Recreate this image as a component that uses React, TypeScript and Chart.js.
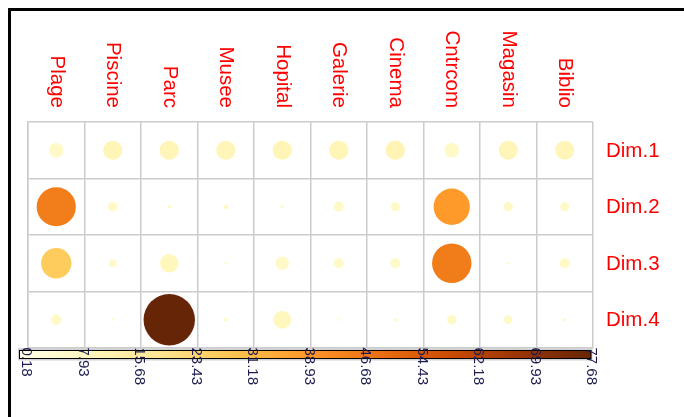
import React, { useEffect, useRef } from "react";
import { Chart, registerables } from "chart.js";

Chart.register(...registerables);

const categories = ["Plage", "Piscine", "Parc", "Musee", "Hopital", "Galerie", "Cinema", "Cntrcom", "Magasin", "Biblio"];
const dimensions = ["Dim.1", "Dim.2", "Dim.3", "Dim.4"];

const dim1 = [6.5, 10.9, 10.9, 10.8, 10.9, 11.0, 11.2, 6.5, 10.6, 10.7];
const dim2 = [45.3, 2.9, 0.5, 0.8, 0.5, 3.1, 2.8, 38.8, 2.8, 2.5];
const dim3 = [27.2, 1.9, 10.0, 0.18, 5.4, 3.1, 3.1, 45.8, 0.4, 3.1];
const dim4 = [3.3, 0.3, 77.68, 0.7, 9.6, 0.3, 0.5, 2.8, 2.3, 0.5];

const colorMin = 0.18;
const colorMax = 77.68;
const colorTickLabels = ["0.18", "7.93", "15.68", "23.43", "31.18", "38.93", "46.68", "54.43", "62.18", "69.93", "77.68"];

const palette = ["#FFFFE5", "#FFF7BC", "#FEE391", "#FEC44F", "#FE9929", "#EC7014", "#CC4C02", "#993404", "#662506"];

function hexToRgb(h: string) {
  const n = parseInt(h.slice(1), 16);
  return [(n >> 16) & 255, (n >> 8) & 255, n & 255];
}

function colorAt(t: number) {
  t = Math.max(0, Math.min(1, t));
  const pos = t * (palette.length - 1);
  const i = Math.min(palette.length - 2, Math.floor(pos));
  const f = pos - i;
  const a = hexToRgb(palette[i]);
  const b = hexToRgb(palette[i + 1]);
  const c = a.map((x, k) => Math.round(x + (b[k] - x) * f));
  return `rgb(${c[0]},${c[1]},${c[2]})`;
}

function bubbleColor(v: number) {
  const t = (v - colorMin) / (colorMax - colorMin);
  return colorAt(Math.max(t, 0.09));
}

const LABEL_FONT = "20.5px 'Liberation Sans', Arial, sans-serif";
const TICK_FONT = "15px 'Liberation Sans', Arial, sans-serif";

const decorPlugin = {
  id: "decor",
  beforeDraw(chart: any) {
    const ctx = chart.ctx;
    ctx.save();
    ctx.fillStyle = "#ffffff";
    ctx.fillRect(0, 0, chart.width, chart.height);
    ctx.fillStyle = "#000000";
    ctx.fillRect(8, 8, chart.width - 8, 3);
    ctx.fillRect(8, 8, 3, chart.height - 8);
    ctx.restore();
  },
  afterDraw(chart: any) {
    const ctx = chart.ctx;
    const xs = chart.scales.x;
    const ys = chart.scales.y;
    ctx.save();
    ctx.fillStyle = "#ff0000";
    ctx.font = LABEL_FONT;
    categories.forEach((c, i) => {
      const x = xs.getPixelForValue(i + 0.5);
      ctx.save();
      ctx.translate(x, 108);
      ctx.rotate(Math.PI / 2);
      ctx.textAlign = "right";
      ctx.textBaseline = "middle";
      ctx.fillText(c, 0, 0);
      ctx.restore();
    });
    ctx.textAlign = "left";
    ctx.textBaseline = "middle";
    dimensions.forEach((d, j) => {
      const y = ys.getPixelForValue(j + 0.5);
      ctx.fillText(d, xs.right + 13, y + 1);
    });
    const left = xs.getPixelForValue(0) - 8.5;
    const right = xs.getPixelForValue(10) - 2;
    const top = ys.bottom + 2.5;
    const h = 8;
    ctx.fillStyle = "#d2d2d2";
    ctx.fillRect(left - 1.5, top - 2.5, right - left + 3, h + 4.5);
    const grad = ctx.createLinearGradient(left, 0, right, 0);
    palette.forEach((p, k) => grad.addColorStop(k / (palette.length - 1), p));
    ctx.fillStyle = grad;
    ctx.fillRect(left, top, right - left, h);
    ctx.strokeStyle = "#000000";
    ctx.lineWidth = 1;
    ctx.strokeRect(left, top, right - left, h);
    ctx.fillStyle = "#1c1c50";
    ctx.font = TICK_FONT;
    colorTickLabels.forEach((lab, i) => {
      const x = xs.getPixelForValue(i) - 1.5;
      ctx.save();
      ctx.translate(x, top - 3);
      ctx.rotate(Math.PI / 2);
      ctx.textAlign = "left";
      ctx.textBaseline = "middle";
      ctx.fillText(lab, 0, 0);
      ctx.restore();
    });
    ctx.restore();
  },
};

export default function App() {
  const ref = useRef<HTMLCanvasElement | null>(null);
  useEffect(() => {
    const canvas = ref.current;
    if (!canvas) return;
    const series = [dim1, dim2, dim3, dim4];
    const points: { x: number; y: number }[] = [];
    const values: number[] = [];
    series.forEach((arr, j) => {
      arr.forEach((v, i) => {
        points.push({ x: i + 0.5, y: j + 0.5 });
        values.push(v);
      });
    });
    const radiusFor = (c: any) => {
      const v = values[c.dataIndex];
      if (v === undefined) return 0;
      const ch = c.chart;
      const xs = ch.scales && ch.scales.x;
      let cell = 56.5;
      if (xs && typeof xs.getPixelForValue === "function") {
        const d = xs.getPixelForValue(1) - xs.getPixelForValue(0);
        if (isFinite(d) && d > 0) cell = d;
      }
      const s = Math.max(0, (v - colorMin) / (colorMax - colorMin));
      return Math.max(1.2, 0.5 * cell * 0.91 * Math.sqrt(s));
    };
    const chart = new Chart(canvas, {
      type: "scatter",
      data: {
        datasets: [
          {
            data: points,
            showLine: false,
            pointBackgroundColor: (c: any) => bubbleColor(values[c.dataIndex] ?? colorMin),
            pointBorderWidth: 0,
            pointBorderColor: "rgba(0,0,0,0)",
            pointRadius: radiusFor,
            pointHoverRadius: radiusFor,
            clip: false,
          } as any,
        ],
      },
      options: {
        animation: false,
        responsive: false,
        devicePixelRatio: 1,
        events: [],
        layout: { padding: { left: 28, top: 122, right: 91, bottom: 69 } },
        plugins: { legend: { display: false }, tooltip: { enabled: false } },
        scales: {
          x: {
            type: "linear",
            min: 0,
            max: 10,
            ticks: { display: false, stepSize: 1 },
            grid: { color: "#cccccc", lineWidth: 1.5, drawTicks: false },
            border: { color: "#cccccc", width: 1.5 },
          },
          y: {
            type: "linear",
            min: 0,
            max: 4,
            reverse: true,
            ticks: { display: false, stepSize: 1 },
            grid: { color: "#cccccc", lineWidth: 1.5, drawTicks: false },
            border: { color: "#cccccc", width: 1.5 },
          },
        },
      },
      plugins: [decorPlugin],
    });
    return () => chart.destroy();
  }, []);
  return (
    <canvas
      ref={ref}
      width={684}
      height={417}
      style={{ position: "fixed", left: 0, top: 0, width: 684, height: 417, display: "block" }}
    />
  );
}
